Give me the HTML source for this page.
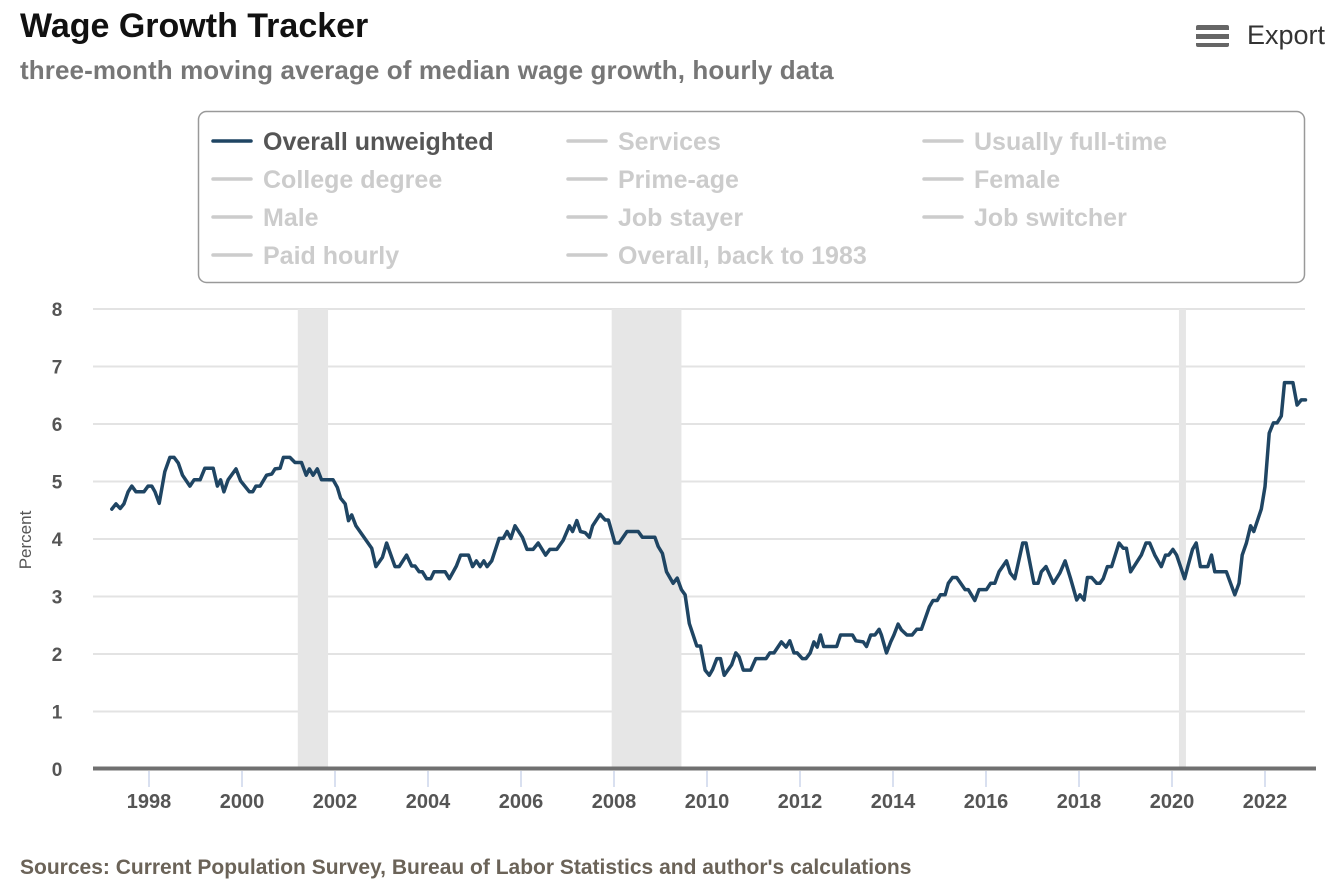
<!DOCTYPE html>
<html><head><meta charset="utf-8"><style>
body{margin:0;width:1340px;height:896px;background:#fff;font-family:"Liberation Sans",sans-serif;overflow:hidden;position:relative}
.t{position:absolute;white-space:nowrap}
</style></head><body>
<div class="t" style="left:20px;top:7px;font-size:34px;font-weight:bold;color:#111">Wage Growth Tracker</div>
<div class="t" style="left:20px;top:55px;font-size:26px;font-weight:bold;color:#777;letter-spacing:0.1px">three-month moving average of median wage growth, hourly data</div>
<div class="t" style="left:1196px;top:20px;font-size:27px;color:#333;display:flex;align-items:center">
 <span style="display:inline-block;width:33px;height:22px;background:linear-gradient(#666 0 5px,transparent 5px 9px,#666 9px 14px,transparent 14px 18px,#666 18px 22px);border-radius:2px;margin-right:18px"></span>Export</div>
<svg id="chart" width="1340" height="896" style="position:absolute;left:0;top:0"></svg>
<div class="t" style="left:20px;top:856px;font-size:21px;font-weight:bold;color:#6b6358">Sources: Current Population Survey, Bureau of Labor Statistics and author's calculations</div>
<script>
const years=[1997.2,1997.29,1997.38,1997.46,1997.55,1997.63,1997.72,1997.89,1997.98,1998.06,1998.13,1998.22,1998.34,1998.45,1998.54,1998.63,1998.72,1998.88,1998.97,1999.1,1999.2,1999.38,1999.47,1999.54,1999.61,1999.7,1999.87,1999.97,2000.16,2000.23,2000.3,2000.39,2000.53,2000.64,2000.71,2000.82,2000.89,2001.03,2001.14,2001.28,2001.38,2001.45,2001.53,2001.62,2001.71,2001.96,2002.05,2002.12,2002.22,2002.29,2002.36,2002.45,2002.79,2002.88,2003.02,2003.11,2003.29,2003.38,2003.54,2003.65,2003.72,2003.81,2003.88,2003.97,2004.06,2004.13,2004.37,2004.46,2004.61,2004.7,2004.87,2004.96,2005.04,2005.12,2005.2,2005.27,2005.37,2005.53,2005.62,2005.7,2005.78,2005.87,2006.03,2006.13,2006.26,2006.37,2006.53,2006.62,2006.77,2006.91,2007.04,2007.11,2007.2,2007.28,2007.38,2007.47,2007.54,2007.7,2007.81,2007.88,2008.02,2008.11,2008.28,2008.52,2008.61,2008.88,2008.95,2009.04,2009.13,2009.27,2009.36,2009.45,2009.53,2009.62,2009.78,2009.86,2009.96,2010.05,2010.12,2010.21,2010.29,2010.37,2010.53,2010.62,2010.69,2010.78,2010.94,2011.05,2011.27,2011.35,2011.44,2011.6,2011.7,2011.78,2011.87,2011.94,2012.05,2012.13,2012.22,2012.3,2012.37,2012.44,2012.51,2012.79,2012.87,2013.13,2013.2,2013.36,2013.43,2013.52,2013.61,2013.7,2013.75,2013.86,2013.95,2014.02,2014.11,2014.18,2014.3,2014.41,2014.51,2014.61,2014.78,2014.86,2014.95,2015.02,2015.12,2015.19,2015.28,2015.37,2015.55,2015.62,2015.76,2015.85,2016.01,2016.1,2016.19,2016.28,2016.44,2016.52,2016.62,2016.79,2016.86,2017.03,2017.12,2017.19,2017.29,2017.45,2017.59,2017.7,2017.82,2017.95,2018.02,2018.11,2018.18,2018.27,2018.38,2018.45,2018.52,2018.61,2018.7,2018.86,2018.95,2019.02,2019.11,2019.34,2019.44,2019.52,2019.63,2019.77,2019.86,2019.93,2020.02,2020.1,2020.27,2020.34,2020.44,2020.52,2020.61,2020.77,2020.85,2020.92,2021.17,2021.35,2021.44,2021.51,2021.6,2021.69,2021.76,2021.92,2022.0,2022.09,2022.18,2022.26,2022.35,2022.42,2022.6,2022.69,2022.78,2022.87];
const wages=[4.52,4.61,4.53,4.61,4.82,4.92,4.82,4.82,4.92,4.92,4.82,4.62,5.17,5.42,5.42,5.32,5.11,4.92,5.03,5.03,5.23,5.23,4.92,5.03,4.82,5.03,5.22,5.01,4.82,4.82,4.92,4.92,5.11,5.13,5.22,5.23,5.42,5.42,5.33,5.33,5.11,5.22,5.11,5.22,5.03,5.03,4.9,4.71,4.61,4.32,4.42,4.23,3.84,3.52,3.68,3.93,3.52,3.52,3.72,3.53,3.53,3.43,3.43,3.31,3.31,3.43,3.43,3.31,3.53,3.72,3.72,3.52,3.62,3.52,3.62,3.52,3.62,4.01,4.01,4.13,4.01,4.23,4.03,3.82,3.82,3.93,3.72,3.82,3.82,3.98,4.23,4.13,4.32,4.13,4.11,4.03,4.23,4.43,4.33,4.33,3.93,3.93,4.13,4.13,4.03,4.03,3.87,3.75,3.43,3.23,3.32,3.12,3.03,2.53,2.14,2.14,1.72,1.63,1.73,1.92,1.92,1.63,1.81,2.02,1.95,1.72,1.72,1.92,1.92,2.02,2.02,2.21,2.12,2.23,2.02,2.02,1.92,1.92,2.02,2.21,2.12,2.33,2.13,2.13,2.33,2.33,2.23,2.21,2.13,2.33,2.33,2.43,2.33,2.02,2.21,2.33,2.52,2.42,2.33,2.33,2.43,2.43,2.82,2.93,2.93,3.03,3.03,3.23,3.33,3.33,3.12,3.12,2.93,3.12,3.12,3.23,3.23,3.43,3.62,3.41,3.31,3.93,3.93,3.23,3.23,3.43,3.52,3.23,3.41,3.62,3.31,2.94,3.03,2.94,3.33,3.33,3.23,3.23,3.31,3.52,3.52,3.93,3.84,3.84,3.43,3.72,3.93,3.93,3.72,3.52,3.72,3.72,3.82,3.72,3.31,3.52,3.82,3.93,3.52,3.52,3.72,3.43,3.43,3.03,3.23,3.72,3.93,4.23,4.13,4.52,4.91,5.84,6.02,6.02,6.14,6.72,6.72,6.33,6.42,6.42];
const recStart=[2001.2,2007.95,2020.15];
const recEnd=[2001.85,2009.45,2020.3];
const yTicks=[0,1,2,3,4,5,6,7,8];
const xTicks=[1998,2000,2002,2004,2006,2008,2010,2012,2014,2016,2018,2020,2022];
const legendLabels=["Overall unweighted","Services","Usually full-time","College degree","Prime-age","Female","Male","Job stayer","Job switcher","Paid hourly","Overall, back to 1983"];

const NS="http://www.w3.org/2000/svg";
const svg=document.getElementById('chart');
const X=y=>149+(y-1998)*46.5;
const Y=v=>769-v*57.5;
function mk(t,a,p){const e=document.createElementNS(NS,t);for(const k in a)e.setAttribute(k,a[k]);(p||svg).appendChild(e);return e;}

const lb=mk('rect',{x:198.5,y:111.5,width:1106,height:171,rx:8,fill:'#fff',stroke:'#999','stroke-width':1.5});


legendLabels.forEach((l,i)=>{
 const cx=[213,568,924][i%3], cy=141+38*Math.floor(i/3);
 const g=mk('g',{});
 
 
 const c=i===0?'#1f4563':'#ccc';
 mk('line',{x1:cx,x2:cx+38,y1:cy,y2:cy,stroke:c,'stroke-width':3.5,'stroke-linecap':'round'},g);
 const t=mk('text',{x:cx+50,y:cy+9,'font-size':25,'font-weight':'bold',fill:i===0?'#555':'#ccc','font-family':'Liberation Sans, sans-serif'},g);
 t.textContent=l;
});

yTicks.forEach(v=>{
 if(v>0){const gl=mk('line',{x1:93,x2:1305,y1:Y(v),y2:Y(v),stroke:'#e3e3e3','stroke-width':2});
 
 }
 const t=mk('text',{x:57,y:Y(v)+7,'font-size':19,'font-weight':'bold',fill:'#555','text-anchor':'middle','font-family':'Liberation Sans, sans-serif'});
 
 
 t.textContent=v;
});
recStart.forEach((s,i)=>{
 const r=mk('rect',{x:X(s),y:Y(8),width:X(recEnd[i])-X(s),height:Y(0)-Y(8),fill:'#e6e6e6'});
 
 
});
const ax=mk('line',{x1:93,x2:1316,y1:768.5,y2:768.5,stroke:'#707070','stroke-width':4});


xTicks.forEach(y=>{
 const tk=mk('line',{x1:X(y),x2:X(y),y1:771,y2:787,stroke:'#ccd6eb','stroke-width':1.5});
 
 
 const t=mk('text',{x:X(y),y:808,'font-size':20,'font-weight':'bold',fill:'#555','text-anchor':'middle','font-family':'Liberation Sans, sans-serif'});
 
 
 t.textContent=y;
});
const yt=mk('text',{x:0,y:0,'font-size':17,fill:'#555','text-anchor':'middle','font-family':'Liberation Sans, sans-serif',transform:'translate(31,540) rotate(-90)'});


yt.textContent='Percent';
const d=years.map((y,i)=>(i?'L':'M')+X(y).toFixed(1)+','+Y(wages[i]).toFixed(1)).join('');
const ln=mk('path',{d:d,fill:'none',stroke:'#1f4563','stroke-width':3.5,'stroke-linejoin':'round','stroke-linecap':'round'});


</script>
</body></html>
